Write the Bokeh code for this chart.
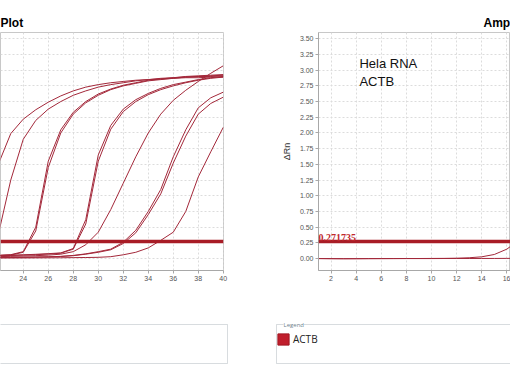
from bokeh.plotting import figure
from bokeh.layouts import column, row
from bokeh.models import (Range1d, Span, Label, Legend, LegendItem, BoxAnnotation,
                          SingleIntervalTicker, NumeralTickFormatter)
from bokeh.embed import file_html
from bokeh.resources import INLINE

# ---------------- data ----------------
cycles = list(range(1, 41))

g2a = [0.000, 0.000, 0.000, 0.000, 0.000, 0.000, 0.000, 0.001, 0.002, 0.003,
       0.004, 0.006, 0.009, 0.013, 0.020, 0.032, 0.050, 0.080, 0.130, 0.220,
       0.650, 1.500, 1.990, 2.220, 2.370, 2.490, 2.590, 2.670, 2.730, 2.770,
       2.800, 2.820, 2.840, 2.850, 2.860, 2.870, 2.880, 2.880, 2.890, 2.890]
g2b = [0.000, 0.000, 0.000, 0.000, 0.000, 0.000, 0.000, 0.000, 0.001, 0.002,
       0.003, 0.004, 0.006, 0.009, 0.013, 0.020, 0.032, 0.050, 0.075, 0.110,
       0.170, 0.380, 1.250, 1.900, 2.200, 2.380, 2.500, 2.600, 2.670, 2.730,
       2.770, 2.800, 2.830, 2.850, 2.870, 2.880, 2.890, 2.900, 2.900, 2.910]
a1 = [0.000, 0.000, 0.000, 0.000, 0.000, 0.000, 0.000, 0.000, 0.001, 0.002,
      0.003, 0.004, 0.006, 0.008, 0.011, 0.015, 0.020, 0.026, 0.033, 0.040,
      0.046, 0.053, 0.062, 0.110, 0.500, 1.550, 2.050, 2.330, 2.500, 2.620,
      2.700, 2.760, 2.800, 2.840, 2.860, 2.880, 2.900, 2.910, 2.920, 2.930]
a2 = [0.000, 0.000, 0.000, 0.000, 0.000, 0.000, 0.000, 0.000, 0.000, 0.001,
      0.002, 0.003, 0.005, 0.007, 0.010, 0.014, 0.018, 0.024, 0.030, 0.036,
      0.042, 0.048, 0.056, 0.100, 0.440, 1.450, 2.000, 2.300, 2.480, 2.600,
      2.690, 2.750, 2.790, 2.830, 2.850, 2.870, 2.890, 2.900, 2.910, 2.920]
b1 = [0.000, 0.000, 0.000, 0.000, 0.000, 0.000, 0.000, 0.000, 0.000, 0.000,
      0.001, 0.002, 0.003, 0.005, 0.008, 0.012, 0.017, 0.023, 0.030, 0.036,
      0.042, 0.048, 0.054, 0.060, 0.068, 0.078, 0.090, 0.160, 0.620, 1.650,
      2.120, 2.380, 2.530, 2.630, 2.710, 2.770, 2.810, 2.850, 2.880, 2.900]
b2 = [0.000, 0.000, 0.000, 0.000, 0.000, 0.000, 0.000, 0.000, 0.000, 0.000,
      0.000, 0.001, 0.002, 0.004, 0.007, 0.010, 0.014, 0.019, 0.025, 0.031,
      0.037, 0.043, 0.049, 0.055, 0.062, 0.072, 0.085, 0.150, 0.550, 1.550,
      2.060, 2.340, 2.500, 2.610, 2.690, 2.750, 2.800, 2.840, 2.870, 2.890]
c1 = [0.000, 0.000, 0.000, 0.000, 0.000, 0.000, 0.000, 0.000, 0.000, 0.000,
      0.000, 0.001, 0.002, 0.003, 0.005, 0.008, 0.011, 0.015, 0.019, 0.023,
      0.027, 0.031, 0.035, 0.040, 0.046, 0.055, 0.070, 0.110, 0.220, 0.420,
      0.780, 1.200, 1.620, 2.000, 2.300, 2.520, 2.680, 2.820, 2.950, 3.070]
d1 = [0.000, 0.000, 0.000, 0.000, 0.000, 0.000, 0.000, 0.000, 0.000, 0.000,
      0.000, 0.000, 0.001, 0.002, 0.003, 0.005, 0.007, 0.009, 0.011, 0.013,
      0.015, 0.017, 0.019, 0.021, 0.024, 0.028, 0.035, 0.050, 0.075, 0.110,
      0.150, 0.260, 0.450, 0.750, 1.100, 1.620, 2.050, 2.400, 2.560, 2.650]
d2 = [0.000, 0.000, 0.000, 0.000, 0.000, 0.000, 0.000, 0.000, 0.000, 0.000,
      0.000, 0.000, 0.000, 0.001, 0.002, 0.004, 0.006, 0.008, 0.010, 0.012,
      0.014, 0.016, 0.018, 0.020, 0.023, 0.027, 0.033, 0.046, 0.070, 0.100,
      0.140, 0.240, 0.410, 0.700, 1.030, 1.520, 1.950, 2.300, 2.470, 2.570]
e1 = [0.000, 0.000, 0.000, 0.000, 0.000, 0.000, 0.000, 0.000, 0.000, 0.000,
      0.000, 0.000, 0.000, 0.000, 0.001, 0.002, 0.003, 0.004, 0.005, 0.006,
      0.007, 0.008, 0.009, 0.010, 0.011, 0.012, 0.013, 0.015, 0.017, 0.020,
      0.030, 0.060, 0.100, 0.170, 0.290, 0.420, 0.750, 1.300, 1.700, 2.090]
left_series = [g2a, g2b, a1, a2, b1, b2, c1, d1, d2, e1]

cycles_r = list(range(1, 18))
r1 = [0.000, -0.002, -0.003, -0.002, -0.001, 0.000, 0.000, 0.001, 0.001,
      0.002, 0.003, 0.006, 0.013, 0.028, 0.065, 0.150, 0.300]
r2 = [0.000, -0.001, -0.002, -0.002, -0.001, -0.001, 0.000, 0.000, 0.000,
      0.000, 0.001, 0.001, 0.001, 0.002, 0.002, 0.003, 0.004]
right_series = [r1, r2]

threshold = 0.271735
series_name = "ACTB"
sample_lines = ["Hela RNA", "ACTB"]
titles = ["Plot", "Amp"]

# ---------------- styling ----------------
CURVE = "#a3283a"
THR = "#a81c26"
GRID = "#dcdcdc"
AXIS = "#a8a8a8"
TICKTXT = "#555555"
BOX = "#7d8a96"
SANS = "Liberation Sans"

Y0, Y1 = -0.19, 3.6
NAN = float("nan")


def base_fig(width, x_range, mbl, mbr, ytick, title, offset):
    p = figure(width=width, height=320, x_range=x_range,
               y_range=Range1d(Y0, Y1), output_backend="svg",
               toolbar_location=None,
               y_axis_location="left" if ytick else None,
               min_border_left=mbl, min_border_right=mbr,
               min_border_top=32, min_border_bottom=50)
    p.title.text = title
    p.title.align = "left"
    p.title.offset = offset
    p.title.standoff = 5
    p.title.text_font = SANS
    p.title.text_font_style = "bold"
    p.title.text_font_size = "12px"
    p.title.text_color = "#000000"
    p.outline_line_color = "#c8c8c8"
    p.background_fill_color = "white"
    p.border_fill_color = "white"
    p.xgrid.ticker = SingleIntervalTicker(interval=2, num_minor_ticks=0)
    p.ygrid.ticker = SingleIntervalTicker(interval=0.25, num_minor_ticks=0)
    for g in p.grid:
        g.grid_line_color = GRID
        g.grid_line_dash = "2 2"
        g.grid_line_width = 1
    axes = list(p.xaxis) + (list(p.yaxis) if ytick else [])
    for ax in axes:
        ax.axis_line_color = AXIS
        ax.major_tick_line_color = AXIS
        ax.minor_tick_line_color = None
        ax.major_tick_out = 3
        ax.major_tick_in = 0
        ax.major_label_text_font = SANS
        ax.major_label_text_font_size = "7px"
        ax.major_label_text_color = TICKTXT
        ax.major_label_standoff = 2
    p.xaxis.ticker = SingleIntervalTicker(interval=2, num_minor_ticks=0)
    return p


# left panel (cropped amplification plot)
p1 = base_fig(250, Range1d(22.18, 40.02), 0, 27, False, titles[0], 0)
for s in left_series:
    p1.line(cycles, s, line_color=CURVE, line_width=1)
p1.add_layout(Span(location=threshold, dimension="width",
                   line_color=THR, line_width=3.5))

# right panel
p2 = base_fig(260, Range1d(1.0, 16.29), 68, 0, True, titles[1], 165)
p2.yaxis.ticker = SingleIntervalTicker(interval=0.25, num_minor_ticks=0)
p2.yaxis.formatter = NumeralTickFormatter(format="0.00")
p2.yaxis.axis_label = "\u0394Rn"
p2.yaxis.axis_label_text_font = SANS
p2.yaxis.axis_label_text_font_size = "9px"
p2.yaxis.axis_label_text_font_style = "normal"
p2.yaxis.axis_label_text_color = "#333333"
p2.yaxis.axis_label_standoff = 5
for s in right_series:
    p2.line(cycles_r, s, line_color=CURVE, line_width=1)
p2.add_layout(Span(location=threshold, dimension="width",
                   line_color=THR, line_width=3.5))
p2.add_layout(Label(x=1.0, y=threshold, y_offset=1, text=f"{threshold:.6f}",
                    text_baseline="bottom", text_font="Liberation Serif",
                    text_font_style="bold", text_font_size="10px",
                    text_color="#c0282d"))
p2.add_layout(Label(x=4.26, y=3.233, text=sample_lines[0], text_baseline="top",
                    text_font=SANS, text_font_size="13px",
                    text_color="#111111"))
p2.add_layout(Label(x=4.26, y=2.94, text=sample_lines[1], text_baseline="top",
                    text_font=SANS, text_font_size="13px",
                    text_color="#111111"))


def legend_fig(width):
    q = figure(width=width, height=53, x_range=Range1d(0, 1),
               y_range=Range1d(0, 1), output_backend="svg",
               toolbar_location=None, x_axis_location=None,
               y_axis_location=None, min_border_left=0,
               min_border_right=0, min_border_top=0, min_border_bottom=0)
    q.grid.visible = False
    q.outline_line_color = None
    q.background_fill_color = "white"
    q.border_fill_color = "white"
    return q


BOX_TOP = (373 - 324) / 53
BOX_BOT = (373 - 363) / 53

l1 = legend_fig(250)
l1.add_layout(BoxAnnotation(left=-0.05, right=227 / 250, top=BOX_TOP,
                            bottom=BOX_BOT, fill_color=None,
                            line_color=BOX, line_width=1))

l2 = legend_fig(260)
l2.add_layout(BoxAnnotation(left=26 / 260, right=1.05, top=BOX_TOP,
                            bottom=BOX_BOT, fill_color=None,
                            line_color=BOX, line_width=1))
sw = l2.quad(left=[NAN], right=[NAN], top=[NAN], bottom=[NAN],
             fill_color="#c01e2c", line_color="#a01822")
leg = Legend(items=[LegendItem(label=series_name, renderers=[sw])],
             location=(26, 27), margin=0, padding=0, spacing=0,
             glyph_width=14, glyph_height=14, label_height=14,
             label_standoff=3, label_text_font="Open Sans",
             label_text_font_size="10px", label_text_color="#222222",
             border_line_color=None, background_fill_alpha=0)
l2.add_layout(leg)
l2.add_layout(Label(x=33 / 260, y=BOX_TOP, text="Legend", text_baseline="middle",
                    text_font="Open Sans", text_font_size="6px",
                    text_color="#6e7f8e", background_fill_color="white"))

layout = column(row(p1, p2), row(l1, l2))
open("out.html", "w").write(file_html(layout, INLINE))
